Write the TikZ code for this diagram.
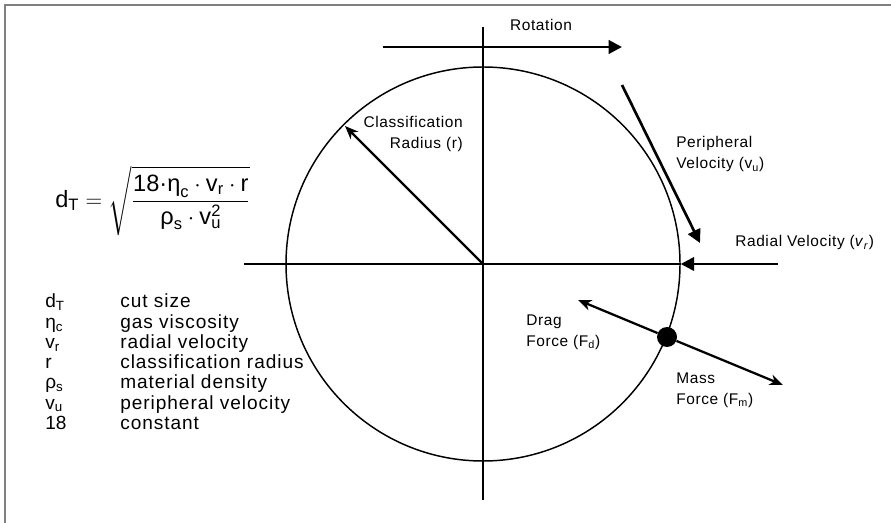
\documentclass[tikz,border=0pt]{standalone}
\usepackage{amsmath}
\usepackage{fontspec}
\setmainfont{Liberation Sans}
\usetikzlibrary{arrows.meta,positioning}
\definecolor{FrameGray}{RGB}{128,128,128}
\tikzset{
  >=Latex,
  lbl/.style={font=\fontsize{11.6}{16}\selectfont\addfontfeature{LetterSpace=4},align=left,inner sep=0pt},
  legsym/.style={font=\fontsize{14.3}{17}\selectfont,anchor=base west,inner sep=0pt},
  legtxt/.style={legsym,font=\fontsize{14.3}{17}\selectfont\addfontfeature{LetterSpace=5}},
  formula/.style={font=\fontsize{17.7}{21}\selectfont,inner sep=0pt},
  axis/.style={line width=1.1pt},
  vec/.style={-{Triangle[length=10pt,width=10pt]},line width=2pt},
  force/.style={-{Stealth[length=10pt,width=8pt,inset=3pt]},line width=1.7pt},
  rim/.style={circle,draw,line width=1.1pt,minimum size=295.5pt,inner sep=0pt},
  particle/.style={circle,fill,minimum size=15pt,inner sep=0pt}
}
\begin{document}
\begin{tikzpicture}[x=0.75pt,y=-0.75pt]
  \useasboundingbox (0,0) rectangle (891,523);
  % frame
  \draw[FrameGray,line width=1.5pt] (5,523) -- (5,5) -- (891,5);

  % wheel and axes
  \coordinate (c) at (483,264);
  \node[rim] (rim) at (c) {};
  \coordinate (hL) at (244,264);
  \coordinate (vT) at (483,27);
  \coordinate (vB) at (483,500);
  \draw[axis] (hL) -- (rim.east);
  \draw[axis] (vT) -- (vB);

  % rotation
  \coordinate (rotS) at (383,47);
  \coordinate (rotE) at (622,47);
  \draw[vec,line width=2.2pt] (rotS) -- (rotE);
  \node[lbl] (rotlbl) at (541,25) {Rotation};

  % velocities
  \coordinate (perS) at (622,85);
  \coordinate (perE) at (700,243);
  \draw[vec] (perS) -- (perE);
  \node[lbl,anchor=west] (perlbl) at (676,154) {Peripheral\\Velocity (v\textsubscript{u})};
  \coordinate (radS) at (778,264);
  \draw[vec] (radS) -- (rim.east);
  \node[lbl,anchor=west] (radlbl) at (735,243) {Radial Velocity (\textit{v}\textsubscript{\textit{r}})};

  % classification radius
  \coordinate (radT) at (345,126);
  \draw[force] (c) -- (radT);
  \node[lbl,align=right,anchor=east] (clslbl) at (463,134) {Classification\\Radius (r)};

  % particle and forces
  \node[particle] (p) at (667,337) {};
  \coordinate (dragT) at (578,300);
  \coordinate (massT) at (783,385);
  \draw[force] (p) -- (dragT);
  \draw[force] (p) -- (massT);
  \node[lbl,anchor=west] (draglbl) at (526,332) {Drag\\Force (F\textsubscript{d})};
  \node[lbl,anchor=west] (masslbl) at (676,390) {Mass\\Force (F\textsubscript{m})};

  % cut size formula
  \node[formula,anchor=west] (eq) at (55,201) {$\text{d}_{\text{T}} = \sqrt{\dfrac{\text{18·η}_{\text{c}}\cdot\text{v}_{\text{r}}\cdot\text{r}}{\text{ρ}_{\text{s}}\cdot\text{v}_{\text{u}}^{\text{2}}}}$};

  % legend
  \foreach \sym/\txt [count=\i from 0] in {{d\textsubscript{T}}/cut size,{η\textsubscript{c}}/gas viscosity,{v\textsubscript{r}}/radial velocity,r/classification radius,{ρ\textsubscript{s}}/material density,{v\textsubscript{u}}/peripheral velocity,18/constant}{
    \node[legsym] (sym\i) at (45,{308+20.2*\i}) {\sym};
    \node[legtxt] (txt\i) at (120,{308+20.2*\i}) {\txt};
  }
\end{tikzpicture}
\end{document}
